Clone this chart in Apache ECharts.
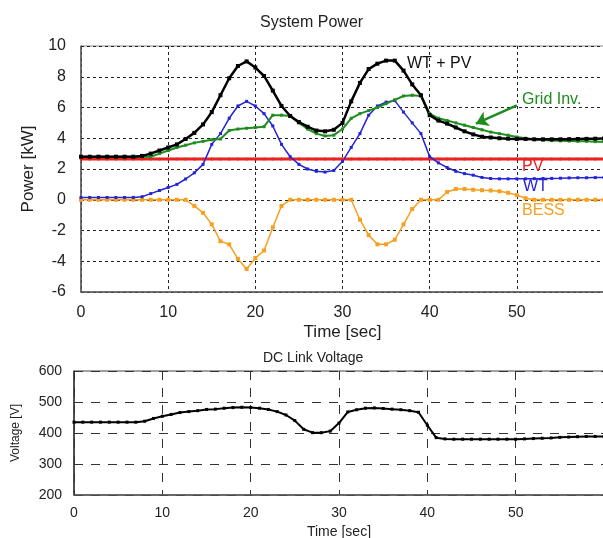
<!DOCTYPE html>
<html>
<head>
<meta charset="utf-8">
<script src="https://cdn.jsdelivr.net/npm/echarts@6/dist/echarts.min.js"></script>
<style>
  html, body { margin: 0; padding: 0; background: #fff; }
  #chart { width: 603px; height: 538px; }
</style>
</head>
<body>
<div id="chart"></div>
<script>
// time axis shared by every series (seconds)
const timeSec = [0,1,2,3,4,5,6,7,8,9,10,11,12,13,14,15,16,17,18,19,20,21,22,23,24,25,26,27,28,29,30,
  31,32,33,34,35,36,37,38,39,40,41,42,43,44,45,46,47,48,49,50,51,52,53,54,55,56,57,58,59,60];

// System Power [kW]
const wtPv = [2.8,2.8,2.8,2.8,2.8,2.8,2.8,2.85,3.0,3.2,3.4,3.6,3.95,4.35,4.9,5.7,6.8,7.9,8.7,9.0,8.6,
  8.05,7.1,6.1,5.45,5.05,4.75,4.5,4.45,4.55,5.0,6.4,7.6,8.5,8.85,9.05,9.05,8.4,7.5,6.8,5.5,
  5.15,4.95,4.7,4.45,4.25,4.1,4.05,4.0,3.97,3.95,3.95,3.93,3.93,3.93,3.93,3.94,3.95,3.96,3.97,3.98];
const gridInv = [2.8,2.8,2.8,2.8,2.8,2.8,2.8,2.8,2.8,3.0,3.2,3.4,3.55,3.7,3.8,3.9,3.95,4.5,4.6,4.65,4.7,
  4.75,5.5,5.5,5.45,5.0,4.6,4.3,4.15,4.2,4.6,5.3,5.6,5.8,6.0,6.25,6.5,6.75,6.8,6.75,5.6,
  5.3,5.15,5.0,4.85,4.7,4.55,4.4,4.3,4.2,4.08,4.0,3.92,3.88,3.85,3.83,3.82,3.8,3.8,3.78,3.77];
const wt = [0.15,0.15,0.15,0.15,0.15,0.15,0.15,0.2,0.4,0.6,0.8,1.0,1.35,1.75,2.3,3.6,4.3,5.3,6.1,6.4,6.1,
  5.6,4.8,3.6,2.8,2.3,2.0,1.85,1.8,1.9,2.5,3.4,4.3,5.5,6.1,6.35,6.45,5.7,5.0,4.3,2.8,
  2.4,2.1,1.85,1.7,1.6,1.45,1.38,1.36,1.36,1.36,1.36,1.37,1.38,1.39,1.4,1.42,1.43,1.43,1.44,1.44];
const pv = [2.65,2.65,2.65,2.65,2.65,2.65,2.65,2.65,2.65,2.65,2.65,2.65,2.65,2.65,2.65,2.65,2.65,2.65,2.65,2.65,2.65,
  2.65,2.65,2.65,2.65,2.65,2.65,2.65,2.65,2.65,2.65,2.65,2.65,2.65,2.65,2.65,2.65,2.65,2.65,2.65,2.65,
  2.65,2.65,2.65,2.65,2.65,2.65,2.65,2.65,2.65,2.65,2.65,2.65,2.65,2.65,2.65,2.65,2.65,2.65,2.65,2.65];
const bess = [0,0,0,0,0,0,0,0,0,0,0,0,0,-0.4,-0.85,-1.6,-2.7,-2.9,-3.85,-4.5,-3.8,
  -3.3,-1.8,-0.4,0,0,0,0,0,0,0,0,-1.3,-2.3,-2.9,-2.9,-2.6,-1.6,-0.6,0,0,
  0,0.5,0.7,0.7,0.65,0.62,0.6,0.55,0.45,0.3,0.1,0,0,0,0,0,0,0,0,0];

// DC Link Voltage [V]
const dcVoltage = [435,435,435,435,435,435,435,435,438,447,454,460,466,469,472,476,477,480,482,483,482,
  480,476,469,458,440,412,401,401,406,432,468,475,480,481,479,477,475,472,467,425,
  385,381,380,380,380,380,380,380,380,380,381,382,383,384,386,387,388,389,389,389];

const powerTicks = { min: -6, max: 10, step: 2 };
const voltTicks = { min: 200, max: 600, step: 100 };

// text labels drawn next to the curves, in data units
const notes = [
  { text: 'WT + PV', t: 37.4, v: 8.86, color: '#111' },
  { text: 'Grid Inv.', t: 50.6, v: 6.53, color: '#1e8c1e' },
  { text: 'PV', t: 50.6, v: 2.18, color: '#e8231f' },
  { text: 'WT', t: 50.7, v: 0.83, color: '#2323d8' },
  { text: 'BESS', t: 50.6, v: -0.73, color: '#f5a020' }
];
const arrowFrom = [50, 6.14];
const arrowTo = [45.3, 4.95];

const pairs = (vals) => timeSec.map((t, i) => [t, vals[i]]);
const font = 'Liberation Sans, Arial, sans-serif';

const myChart = echarts.init(document.getElementById('chart'));

const xAxisBase = (gridIndex, size, nameSize, gap, margin) => ({
  type: 'value',
  gridIndex,
  min: 0,
  max: 60,
  interval: 10,
  name: 'Time [sec]',
  nameLocation: 'middle',
  nameGap: gap,
  nameTextStyle: { color: '#222', fontSize: nameSize, fontFamily: font },
  axisLine: { show: true, onZero: false, lineStyle: { color: '#555', width: 1.5 } },
  axisTick: { show: false },
  axisLabel: { showMaxLabel: false, margin, color: '#222', fontSize: size, fontFamily: font }
});

const option = {
  backgroundColor: '#fff',
  animation: false,
  title: [
    { text: 'System Power', left: 255, top: 10,
      textStyle: { fontSize: 16, fontWeight: 400, color: '#222', fontFamily: font } },
    { text: 'DC Link Voltage', left: 258, top: 346,
      textStyle: { fontSize: 14, fontWeight: 400, color: '#222', fontFamily: font } }
  ],
  grid: [
    { left: 81, top: 46, width: 523, height: 246, outerBoundsMode: 'none',
      show: true, borderColor: '#888', borderWidth: 1 },
    { left: 74, top: 371, width: 530, height: 124, outerBoundsMode: 'none',
      show: true, borderColor: '#444', borderWidth: 1 }
  ],
  xAxis: [
    Object.assign(xAxisBase(0, 16, 17, 32, 13), {
      splitLine: { show: true, lineStyle: { color: '#222', type: [3, 3], width: 1 } }
    }),
    Object.assign(xAxisBase(1, 14, 14, 30, 11), {
      splitLine: { show: true, lineStyle: { color: '#333', type: [9, 8], width: 1 } }
    })
  ],
  yAxis: [
    {
      type: 'value', gridIndex: 0,
      min: powerTicks.min, max: powerTicks.max, interval: powerTicks.step,
      name: 'Power [kW]', nameLocation: 'middle', nameGap: 44,
      nameTextStyle: { color: '#222', fontSize: 17, fontFamily: font },
      axisLine: { show: true, lineStyle: { color: '#555', width: 1.5 } },
      axisTick: { show: false },
      axisLabel: { margin: 15, color: '#222', fontSize: 16, fontFamily: font },
      splitLine: { show: true, lineStyle: { color: '#222', type: [3, 3], width: 1 } }
    },
    {
      type: 'value', gridIndex: 1,
      min: voltTicks.min, max: voltTicks.max, interval: voltTicks.step,
      name: 'Voltage [V]', nameLocation: 'middle', nameGap: 52,
      nameTextStyle: { color: '#222', fontSize: 12, fontFamily: font },
      axisLine: { show: true, lineStyle: { color: '#333', width: 1.5 } },
      axisTick: { show: false },
      axisLabel: { margin: 12, color: '#222', fontSize: 14, fontFamily: font },
      splitLine: { show: true, lineStyle: { color: '#333', type: [9, 8], width: 1 } }
    }
  ],
  series: [
    {
      name: 'PV', type: 'line', xAxisIndex: 0, yAxisIndex: 0, data: pairs(pv),
      symbol: 'circle', symbolSize: 3, showAllSymbol: true,
      lineStyle: { color: '#e8231f', width: 3 }, itemStyle: { color: '#e8231f' }
    },
    {
      name: 'BESS', type: 'line', xAxisIndex: 0, yAxisIndex: 0, data: pairs(bess),
      symbol: 'rect', symbolSize: 4, showAllSymbol: true,
      lineStyle: { color: '#f5a020', width: 1.5 }, itemStyle: { color: '#f5a020' }
    },
    {
      name: 'WT', type: 'line', xAxisIndex: 0, yAxisIndex: 0, data: pairs(wt),
      symbol: 'rect', symbolSize: 3, showAllSymbol: true,
      lineStyle: { color: '#2323d8', width: 1.5 }, itemStyle: { color: '#2323d8' }
    },
    {
      name: 'Grid Inv.', type: 'line', xAxisIndex: 0, yAxisIndex: 0, data: pairs(gridInv),
      symbol: 'rect', symbolSize: 3, showAllSymbol: true,
      lineStyle: { color: '#1e8c1e', width: 2 }, itemStyle: { color: '#1e8c1e' },
      markLine: {
        silent: true, symbol: ['none', 'arrow'], symbolSize: 12,
        lineStyle: { color: '#1e8c1e', width: 2.5, type: 'solid' },
        label: { show: false },
        data: [[{ coord: arrowFrom }, { coord: arrowTo }]]
      }
    },
    {
      name: 'WT + PV', type: 'line', xAxisIndex: 0, yAxisIndex: 0, data: pairs(wtPv),
      symbol: 'rect', symbolSize: 4, showAllSymbol: true,
      lineStyle: { color: '#000', width: 2.5 }, itemStyle: { color: '#000' },
      markPoint: {
        silent: true, symbol: 'circle', symbolSize: 0,
        data: notes.map(n => ({
          coord: [n.t, n.v],
          label: {
            show: true, position: 'right', distance: 0, formatter: n.text,
            color: n.color, fontSize: 16, fontFamily: font
          }
        }))
      }
    },
    {
      name: 'DC Link', type: 'line', xAxisIndex: 1, yAxisIndex: 1, data: pairs(dcVoltage),
      symbol: 'rect', symbolSize: 3, showAllSymbol: true,
      lineStyle: { color: '#000', width: 2 }, itemStyle: { color: '#000' }
    }
  ]
};

myChart.setOption(option);
</script>
</body>
</html>
